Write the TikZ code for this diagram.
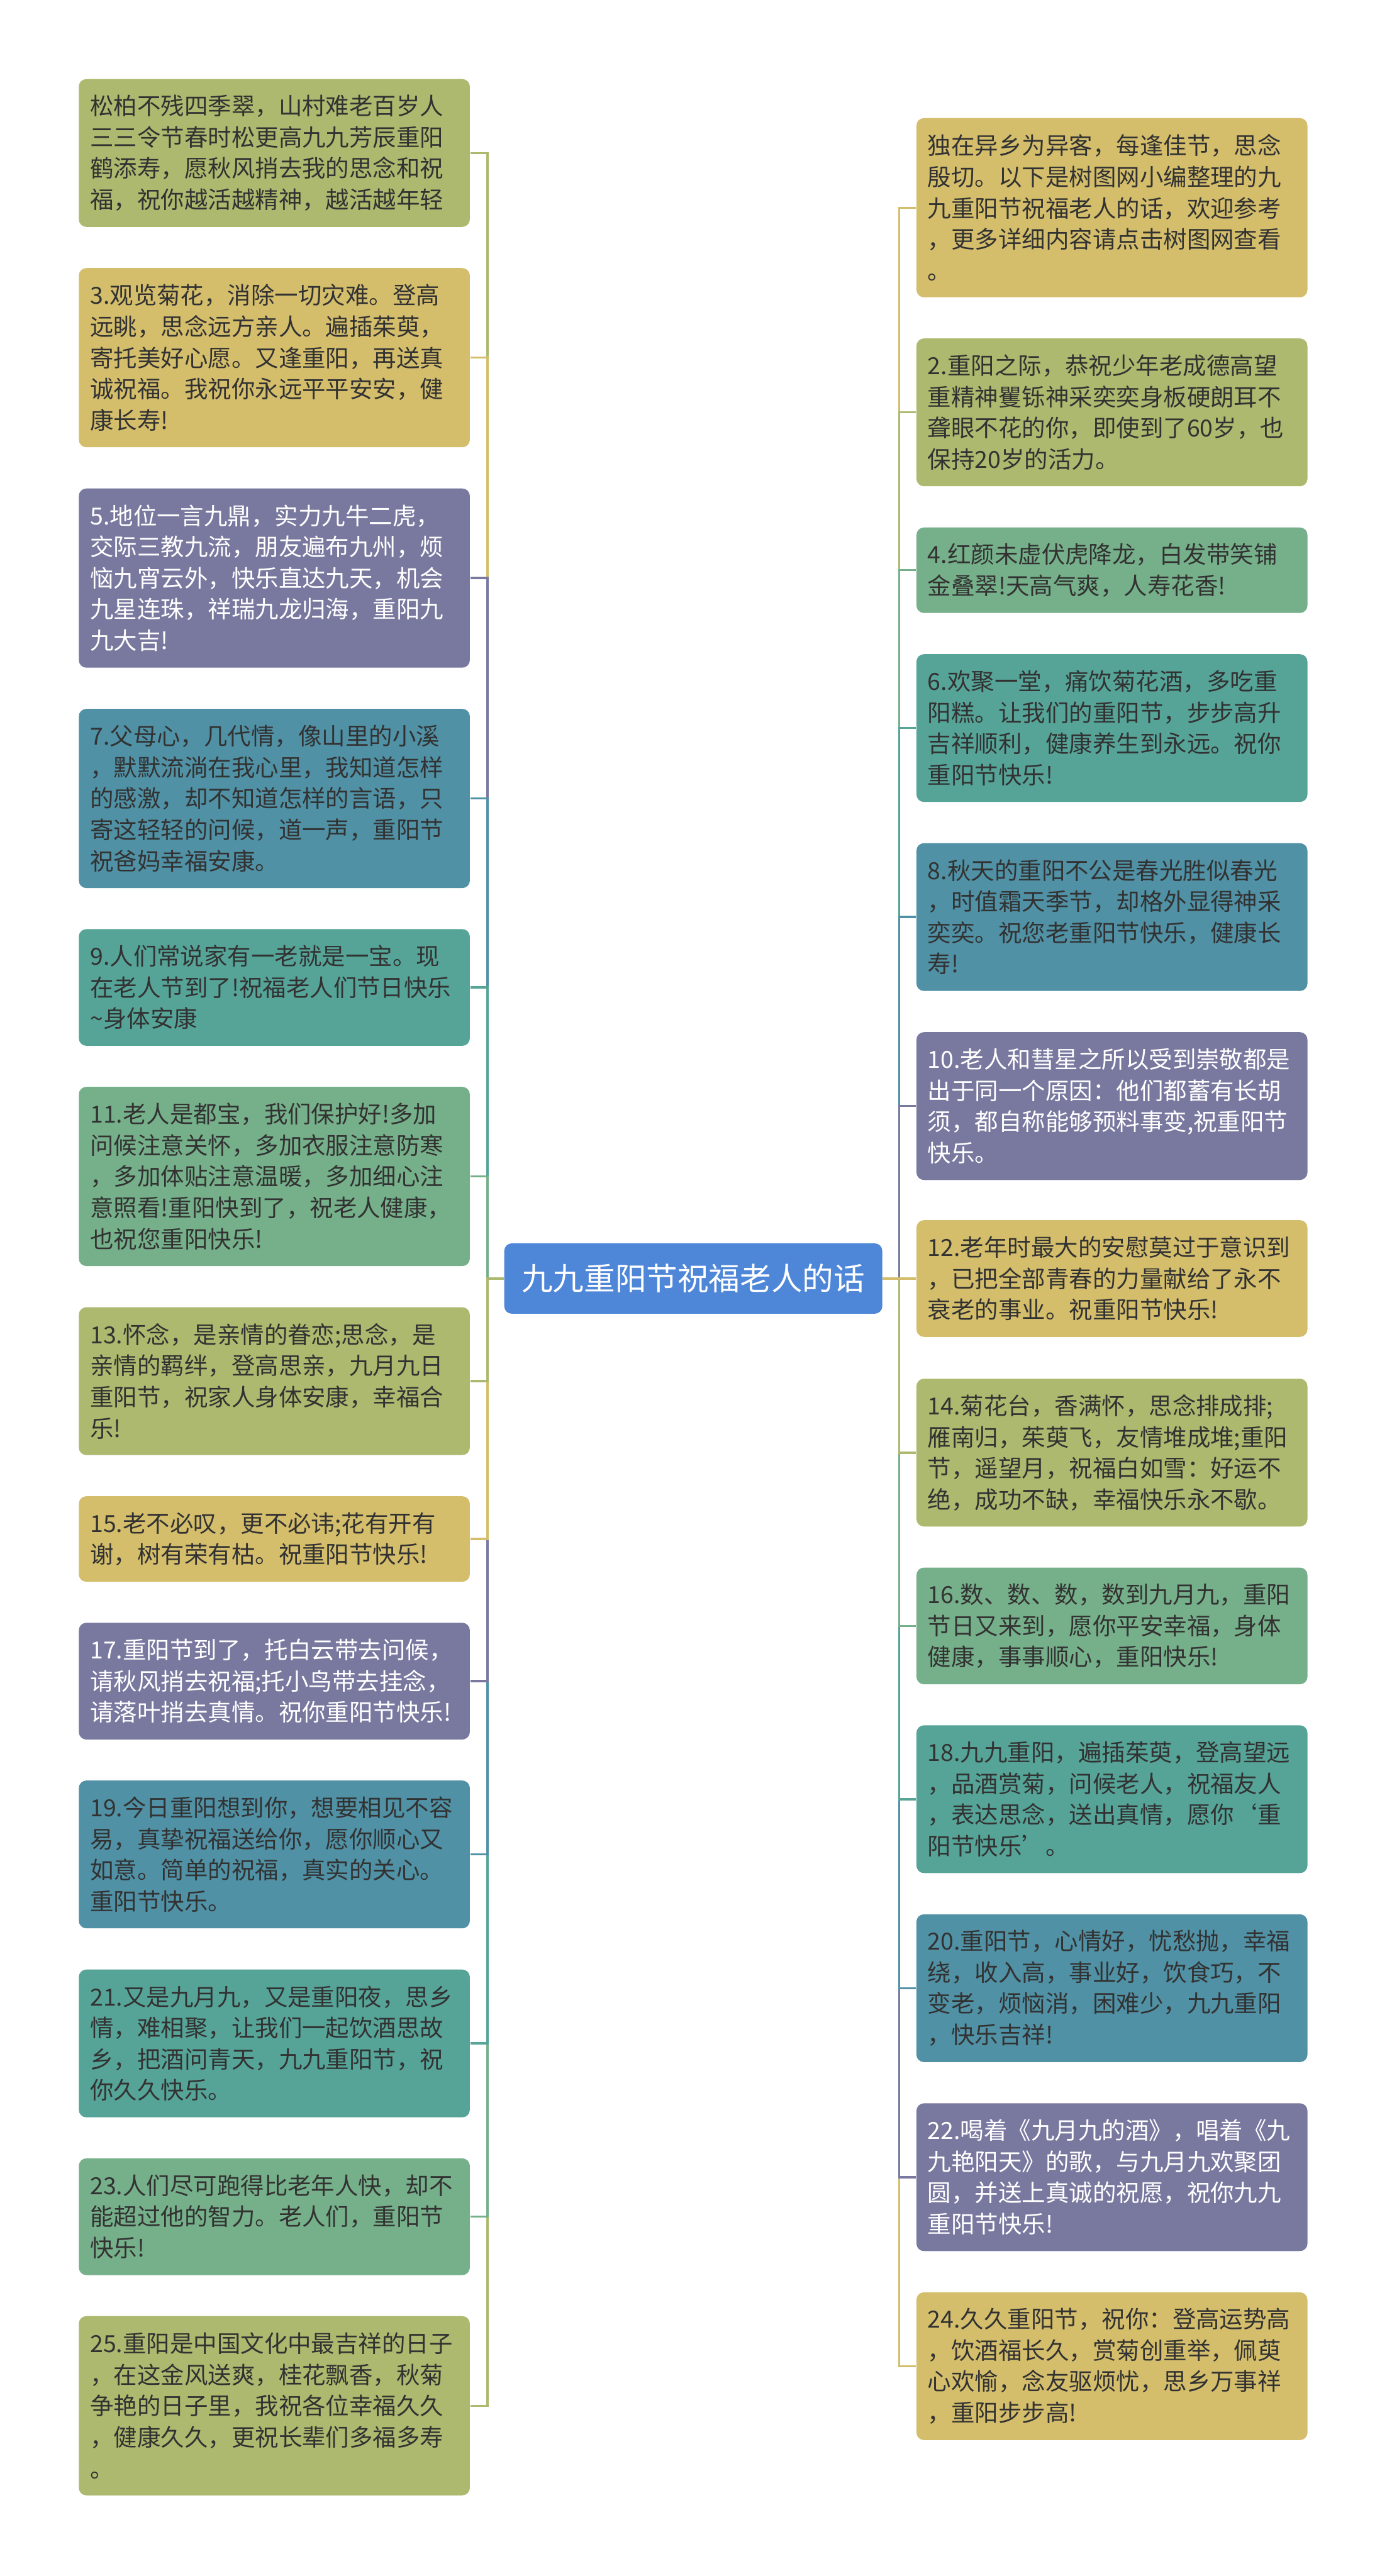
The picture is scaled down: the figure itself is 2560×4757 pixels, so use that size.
\documentclass[tikz,border=0pt]{standalone}
\usepackage{fontspec}
\setmainfont{Noto Sans CJK SC}
\definecolor{cOlive}{RGB}{173,185,110}
\definecolor{cGold}{RGB}{212,190,108}
\definecolor{cPurple}{RGB}{121,121,160}
\definecolor{cSea}{RGB}{80,145,165}
\definecolor{cTeal}{RGB}{86,164,152}
\definecolor{cGreen}{RGB}{118,176,138}
\definecolor{cRoot}{RGB}{78,134,216}
\definecolor{cInk}{RGB}{50,50,50}
\begin{document}
\begin{tikzpicture}[x=0.25pt, y=-0.25pt,
    box/.style={rounded corners=3.5pt, fill=#1, text=cInk, text width=170pt, inner xsep=5.25pt, inner ysep=0pt, align=left, font=\fontsize{10.875}{14.4}\selectfont},
    wbox/.style={box=cPurple, text=white},
    h2/.style={minimum height=39.5pt}, h3/.style={minimum height=53.9pt},
    h4/.style={minimum height=68.25pt}, h5/.style={minimum height=82.75pt},
    lnk/.style={draw=#1, line width=1pt}]
  \useasboundingbox (0,0) rectangle (2560,4757);
  \node[rounded corners=3.5pt, fill=cRoot, text=white, minimum width=174.5pt, minimum height=32.5pt, inner sep=0pt, font=\fontsize{14.4}{17}\selectfont] (root) at (1280,2361) {九九重阳节祝福老人的话};
  \coordinate (lt) at (900,2361);
  \coordinate (rt) at (1660,2361);
  \node[box=cOlive, h4] (l1) at (506.5,282.5) {松柏不残四季翠，山村难老百岁人\\三三令节春时松更高九九芳辰重阳\\鹤添寿，愿秋风捎去我的思念和祝\\福，祝你越活越精神，越活越年轻};
  \node[box=cGold, h5] (l2) at (506.5,660.5) {3.观览菊花，消除一切灾难。登高\\远眺，思念远方亲人。遍插茱萸，\\寄托美好心愿。又逢重阳，再送真\\诚祝福。我祝你永远平平安安，健\\康长寿!};
  \node[wbox, h5] (l3) at (506.5,1067.5) {5.地位一言九鼎，实力九牛二虎，\\交际三教九流，朋友遍布九州，烦\\恼九宵云外，快乐直达九天，机会\\九星连珠，祥瑞九龙归海，重阳九\\九大吉!};
  \node[box=cSea, h5] (l4) at (506.5,1474.5) {7.父母心，几代情，像山里的小溪\\，默默流淌在我心里，我知道怎样\\的感激，却不知道怎样的言语，只\\寄这轻轻的问候，道一声，重阳节\\祝爸妈幸福安康。};
  \node[box=cTeal, h3] (l5) at (506.5,1823.5) {9.人们常说家有一老就是一宝。现\\在老人节到了!祝福老人们节日快乐\\\textasciitilde{}身体安康};
  \node[box=cGreen, h5] (l6) at (506.5,2172.5) {11.老人是都宝，我们保护好!多加\\问候注意关怀，多加衣服注意防寒\\，多加体贴注意温暖，多加细心注\\意照看!重阳快到了，祝老人健康，\\也祝您重阳快乐!};
  \node[box=cOlive, h4] (l7) at (506.5,2550.5) {13.怀念，是亲情的眷恋;思念，是\\亲情的羁绊，登高思亲，九月九日\\重阳节，祝家人身体安康，幸福合\\乐!};
  \node[box=cGold, h2] (l8) at (506.5,2842) {15.老不必叹，更不必讳;花有开有\\谢，树有荣有枯。祝重阳节快乐!};
  \node[wbox, h3] (l9) at (506.5,3104.5) {17.重阳节到了，托白云带去问候，\\请秋风捎去祝福;托小鸟带去挂念，\\请落叶捎去真情。祝你重阳节快乐!};
  \node[box=cSea, h4] (l10) at (506.5,3424.5) {19.今日重阳想到你，想要相见不容\\易，真挚祝福送给你，愿你顺心又\\如意。简单的祝福，真实的关心。\\重阳节快乐。};
  \node[box=cTeal, h4] (l11) at (506.5,3773.5) {21.又是九月九，又是重阳夜，思乡\\情，难相聚，让我们一起饮酒思故\\乡，把酒问青天，九九重阳节，祝\\你久久快乐。};
  \node[box=cGreen, h3] (l12) at (506.5,4093.5) {23.人们尽可跑得比老年人快，却不\\能超过他的智力。老人们，重阳节\\快乐!};
  \node[box=cOlive, h5] (l13) at (506.5,4442.5) {25.重阳是中国文化中最吉祥的日子\\，在这金风送爽，桂花飘香，秋菊\\争艳的日子里，我祝各位幸福久久\\，健康久久，更祝长辈们多福多寿\\。};
  \node[box=cGold, h5] (r1) at (2053,383.5) {独在异乡为异客，每逢佳节，思念\\殷切。以下是树图网小编整理的九\\九重阳节祝福老人的话，欢迎参考\\，更多详细内容请点击树图网查看\\。};
  \node[box=cOlive, h4] (r2) at (2053,761.5) {2.重阳之际，恭祝少年老成德高望\\重精神矍铄神采奕奕身板硬朗耳不\\聋眼不花的你，即使到了60岁，也\\保持20岁的活力。};
  \node[box=cGreen, h2] (r3) at (2053,1053) {4.红颜未虚伏虎降龙，白发带笑铺\\金叠翠!天高气爽，人寿花香!};
  \node[box=cTeal, h4] (r4) at (2053,1344.5) {6.欢聚一堂，痛饮菊花酒，多吃重\\阳糕。让我们的重阳节，步步高升\\吉祥顺利，健康养生到永远。祝你\\重阳节快乐!};
  \node[box=cSea, h4] (r5) at (2053,1693.5) {8.秋天的重阳不公是春光胜似春光\\，时值霜天季节，却格外显得神采\\奕奕。祝您老重阳节快乐，健康长\\寿!};
  \node[wbox, h4] (r6) at (2053,2042.5) {10.老人和彗星之所以受到崇敬都是\\出于同一个原因：他们都蓄有长胡\\须，都自称能够预料事变,祝重阳节\\快乐。};
  \node[box=cGold, h3] (r7) at (2053,2361) {12.老年时最大的安慰莫过于意识到\\，已把全部青春的力量献给了永不\\衰老的事业。祝重阳节快乐!};
  \node[box=cOlive, h4] (r8) at (2053,2682.5) {14.菊花台，香满怀，思念排成排;\\雁南归，茱萸飞，友情堆成堆;重阳\\节，遥望月，祝福白如雪：好运不\\绝，成功不缺，幸福快乐永不歇。};
  \node[box=cGreen, h3] (r9) at (2053,3002.5) {16.数、数、数，数到九月九，重阳\\节日又来到，愿你平安幸福，身体\\健康，事事顺心，重阳快乐!};
  \node[box=cTeal, h4] (r10) at (2053,3322.5) {18.九九重阳，遍插茱萸，登高望远\\，品酒赏菊，问候老人，祝福友人\\，表达思念，送出真情，愿你‘重\\阳节快乐’。};
  \node[box=cSea, h4] (r11) at (2053,3671.5) {20.重阳节，心情好，忧愁抛，幸福\\绕，收入高，事业好，饮食巧，不\\变老，烦恼消，困难少，九九重阳\\，快乐吉祥!};
  \node[wbox, h4] (r12) at (2053,4020.5) {22.喝着《九月九的酒》，唱着《九\\九艳阳天》的歌，与九月九欢聚团\\圆，并送上真诚的祝愿，祝你九九\\重阳节快乐!};
  \node[box=cGold, h4] (r13) at (2053,4369.5) {24.久久重阳节，祝你：登高运势高\\，饮酒福长久，赏菊创重举，佩萸\\心欢愉，念友驱烦忧，思乡万事祥\\，重阳步步高!};
  \draw[lnk=cOlive] (root.west) -- (lt) -- (lt |- l1.east) [rounded corners=5pt] -- (l1.east);
  \draw[lnk=cGold] (root.west) -- (lt) -- (lt |- l2.east) [rounded corners=5pt] -- (l2.east);
  \draw[lnk=cPurple] (root.west) -- (lt) -- (lt |- l3.east) [rounded corners=5pt] -- (l3.east);
  \draw[lnk=cSea] (root.west) -- (lt) -- (lt |- l4.east) [rounded corners=5pt] -- (l4.east);
  \draw[lnk=cTeal] (root.west) -- (lt) -- (lt |- l5.east) [rounded corners=5pt] -- (l5.east);
  \draw[lnk=cGreen] (root.west) -- (lt) -- (lt |- l6.east) [rounded corners=5pt] -- (l6.east);
  \draw[lnk=cOlive] (root.west) -- (lt) -- (lt |- l13.east) [rounded corners=5pt] -- (l13.east);
  \draw[lnk=cGreen] (root.west) -- (lt) -- (lt |- l12.east) [rounded corners=5pt] -- (l12.east);
  \draw[lnk=cTeal] (root.west) -- (lt) -- (lt |- l11.east) [rounded corners=5pt] -- (l11.east);
  \draw[lnk=cSea] (root.west) -- (lt) -- (lt |- l10.east) [rounded corners=5pt] -- (l10.east);
  \draw[lnk=cPurple] (root.west) -- (lt) -- (lt |- l9.east) [rounded corners=5pt] -- (l9.east);
  \draw[lnk=cGold] (root.west) -- (lt) -- (lt |- l8.east) [rounded corners=5pt] -- (l8.east);
  \draw[lnk=cOlive] (root.west) -- (lt) -- (lt |- l7.east) [rounded corners=5pt] -- (l7.east);
  \draw[lnk=cGold] (root.east) -- (rt) -- (rt |- r1.west) [rounded corners=5pt] -- (r1.west);
  \draw[lnk=cOlive] (root.east) -- (rt) -- (rt |- r2.west) [rounded corners=5pt] -- (r2.west);
  \draw[lnk=cGreen] (root.east) -- (rt) -- (rt |- r3.west) [rounded corners=5pt] -- (r3.west);
  \draw[lnk=cTeal] (root.east) -- (rt) -- (rt |- r4.west) [rounded corners=5pt] -- (r4.west);
  \draw[lnk=cSea] (root.east) -- (rt) -- (rt |- r5.west) [rounded corners=5pt] -- (r5.west);
  \draw[lnk=cPurple] (root.east) -- (rt) -- (rt |- r6.west) [rounded corners=5pt] -- (r6.west);
  \draw[lnk=cGold] (root.east) -- (rt) -- (rt |- r13.west) [rounded corners=5pt] -- (r13.west);
  \draw[lnk=cPurple] (root.east) -- (rt) -- (rt |- r12.west) [rounded corners=5pt] -- (r12.west);
  \draw[lnk=cSea] (root.east) -- (rt) -- (rt |- r11.west) [rounded corners=5pt] -- (r11.west);
  \draw[lnk=cTeal] (root.east) -- (rt) -- (rt |- r10.west) [rounded corners=5pt] -- (r10.west);
  \draw[lnk=cGreen] (root.east) -- (rt) -- (rt |- r9.west) [rounded corners=5pt] -- (r9.west);
  \draw[lnk=cOlive] (root.east) -- (rt) -- (rt |- r8.west) [rounded corners=5pt] -- (r8.west);
  \draw[lnk=cGold] (root.east) -- (r7.west);
\end{tikzpicture}
\end{document}
